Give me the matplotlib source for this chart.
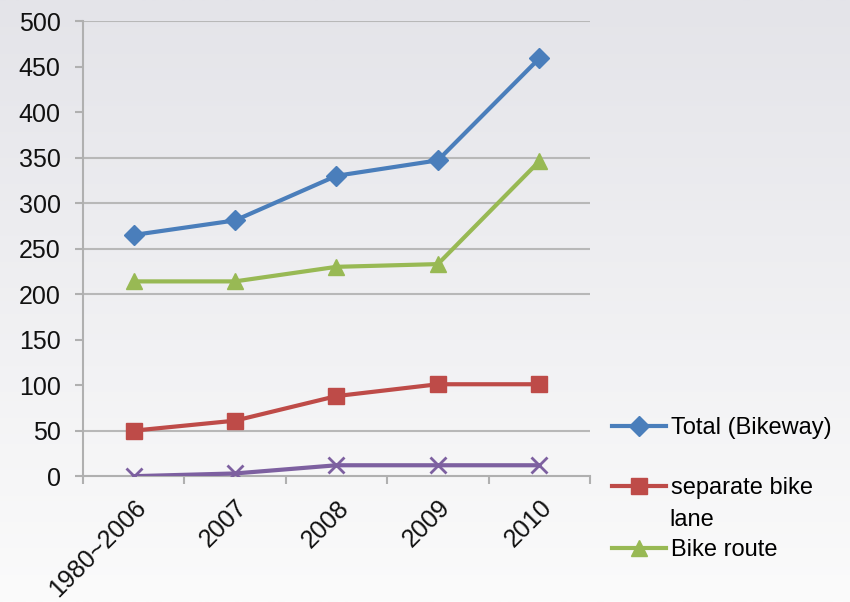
import numpy as np
import matplotlib.pyplot as plt

plt.rcParams['font.family'] = ['Liberation Sans', 'DejaVu Sans']

# categories and series
years = ['1980~2006', '2007', '2008', '2009', '2010']
total = [265, 281, 330, 347, 459]
separate = [50, 61, 88, 101, 101]
route = [214, 214, 230, 233, 346]
other = [0, 3, 12, 12, 12]
grid_at = [50, 200, 250, 300, 350, 500]

labels = ['Total (Bikeway)', 'separate bike', 'Bike route']

fig = plt.figure(figsize=(8.5, 6.02), dpi=100)

# soft grey gradient background
bg = fig.add_axes([0, 0, 1, 1], zorder=-10)
grad = np.linspace(0, 1, 256).reshape(-1, 1)
bg.imshow(grad, aspect='auto', cmap=plt.matplotlib.colors.LinearSegmentedColormap.from_list(
    'bg', ['#e4e4e9', '#fbfbfb']), extent=[0, 1, 0, 1])
bg.axis('off')

ax = fig.add_axes([0.0976, 0.209, 0.5965, 0.756])
ax.patch.set_alpha(0)
x = np.arange(len(years))

for g in grid_at:
    ax.axhline(g, color='#b8b8b8', lw=1.5, zorder=1)

l_tot, = ax.plot(x, total, color='#4a7ebb', lw=3, marker='D', ms=10, zorder=3)
l_sep, = ax.plot(x, separate, color='#be4b48', lw=3, marker='s', ms=11, zorder=3)
l_rt, = ax.plot(x, route, color='#98b954', lw=3, marker='^', ms=12, zorder=3)
ax.plot(x, other, color='#7d60a0', lw=3, marker='x', ms=12, mew=2, zorder=3)

ax.set_xlim(-0.5, 4.5)
ax.set_ylim(0, 500)
ax.set_yticks(range(0, 501, 50))
ax.set_xticks(x)
ax.set_xticks(np.arange(-0.5, 5, 1), minor=True)
ax.set_xticklabels(years, rotation=45, ha='right', va='top', rotation_mode='anchor')
ax.tick_params(axis='x', which='major', length=0, pad=14, labelsize=18, labelcolor='#111111')
ax.tick_params(axis='x', which='minor', length=6, color='#b0b0b0', width=1.5)
ax.tick_params(axis='y', length=6, color='#b0b0b0', width=1.5, pad=10, labelsize=18, labelcolor='#111111')

for s in ['top', 'right']:
    ax.spines[s].set_visible(False)
for s in ['left', 'bottom']:
    ax.spines[s].set_color('#b0b0b0')
    ax.spines[s].set_linewidth(1.5)

# legend entries placed one by one down the right side
for h, lab, yy in zip([l_tot, l_sep, l_rt], labels, [0.289, 0.189, 0.086]):
    fig.legend(handles=[h], labels=[lab], loc='center left', bbox_to_anchor=(0.72, yy),
               frameon=False, fontsize=17, handlelength=2.3, handletextpad=0.2,
               borderaxespad=0, borderpad=0)
# second line of the wrapped "separate bike lane" label
fig.text(0.787, 0.136, 'lane', fontsize=17, va='center', ha='left')

fig.savefig('out.png', dpi=100)
